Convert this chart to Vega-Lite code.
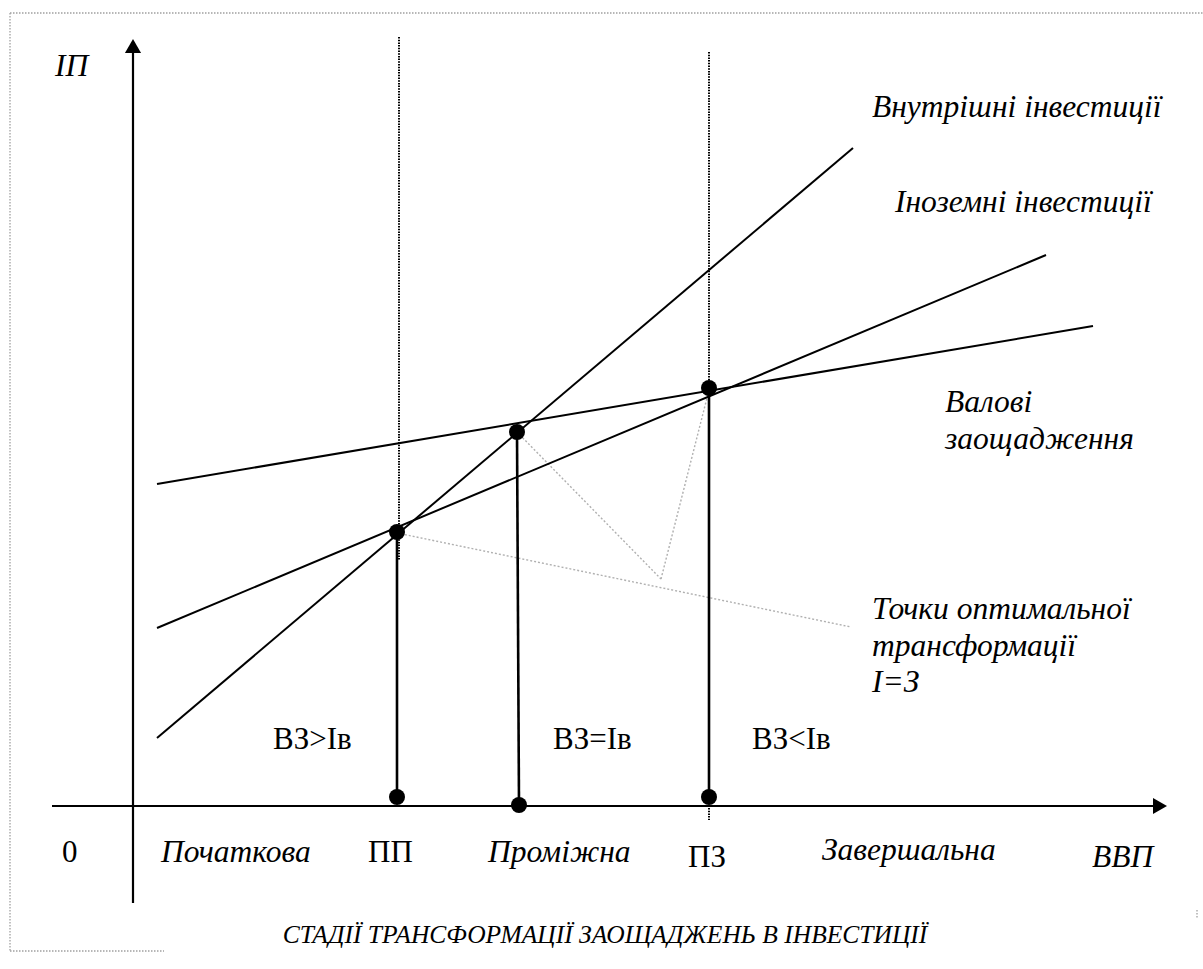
{
  "$schema": "https://vega.github.io/schema/vega-lite/v6.json",
  "width": 1203,
  "height": 969,
  "padding": 0,
  "autosize": "none",
  "background": "white",
  "config": {"view": {"stroke": null}},
  "datasets": {
    "border": [
      {"x": 10, "y": 13, "x2": 1203, "y2": 13},
      {"x": 10, "y": 13, "x2": 10, "y2": 951},
      {"x": 10, "y": 951, "x2": 164, "y2": 951},
      {"x": 1197, "y": 910, "x2": 1197, "y2": 918}
    ],
    "axes": [
      {"x": 133, "y": 50, "x2": 133, "y2": 903},
      {"x": 52, "y": 806, "x2": 1156, "y2": 806}
    ],
    "arrows": [
      {"x": 133, "y": 46, "dir": "triangle-up"},
      {"x": 1160, "y": 806, "dir": "triangle-right"}
    ],
    "curves": [
      {"name": "Валові заощадження", "x": 157, "y": 484, "x2": 1093, "y2": 326},
      {"name": "Іноземні інвестиції", "x": 157, "y": 628, "x2": 1046, "y2": 255},
      {"name": "Внутрішні інвестиції", "x": 157, "y": 738, "x2": 853, "y2": 148}
    ],
    "stems": [
      {"x": 397, "y": 532, "x2": 397, "y2": 797},
      {"x": 517, "y": 432, "x2": 519, "y2": 806},
      {"x": 709, "y": 388, "x2": 709, "y2": 797}
    ],
    "guides": [
      {"x": 399, "y": 37, "x2": 399, "y2": 560},
      {"x": 709, "y": 52, "x2": 709, "y2": 820}
    ],
    "optimal": [
      {"x": 397, "y": 533, "x2": 851, "y2": 627},
      {"x": 517, "y": 432, "x2": 661, "y2": 579},
      {"x": 661, "y": 579, "x2": 709, "y2": 390}
    ],
    "dots": [
      {"x": 397, "y": 532},
      {"x": 517, "y": 432},
      {"x": 709, "y": 388},
      {"x": 397, "y": 797},
      {"x": 519, "y": 805},
      {"x": 709, "y": 797}
    ],
    "italic": [
      {"x": 55, "y": 67, "t": "ІП"},
      {"x": 872, "y": 108, "t": "Внутрішні інвестиції"},
      {"x": 895, "y": 203, "t": "Іноземні інвестиції"},
      {"x": 945, "y": 403, "t": "Валові"},
      {"x": 945, "y": 440, "t": "заощадження"},
      {"x": 872, "y": 610, "t": "Точки оптимальної"},
      {"x": 872, "y": 647, "t": "трансформації"},
      {"x": 872, "y": 683, "t": "І=З"},
      {"x": 161, "y": 853, "t": "Початкова"},
      {"x": 488, "y": 853, "t": "Проміжна"},
      {"x": 822, "y": 851, "t": "Завершальна"},
      {"x": 1092, "y": 858, "t": "ВВП"}
    ],
    "regular": [
      {"x": 62, "y": 853, "t": "0"},
      {"x": 368, "y": 853, "t": "ПП"},
      {"x": 688, "y": 858, "t": "ПЗ"},
      {"x": 273, "y": 740, "t": "ВЗ>Ів"},
      {"x": 553, "y": 740, "t": "ВЗ=Ів"},
      {"x": 752, "y": 740, "t": "ВЗ<Ів"}
    ],
    "title": [
      {"x": 605, "y": 935, "t": "СТАДІЇ ТРАНСФОРМАЦІЇ ЗАОЩАДЖЕНЬ В ІНВЕСТИЦІЇ"}
    ]
  },
  "encoding": {
    "x": {"field": "x", "type": "quantitative", "scale": {"domain": [0, 1203], "nice": false, "zero": false}, "axis": null},
    "y": {"field": "y", "type": "quantitative", "scale": {"domain": [969, 0], "nice": false, "zero": false}, "axis": null}
  },
  "layer": [
    {
      "data": {"name": "border"},
      "mark": {"type": "rule", "stroke": "#a0a0a0", "strokeWidth": 1.3, "strokeDash": [1.5, 1.5]},
      "encoding": {"x2": {"field": "x2"}, "y2": {"field": "y2"}}
    },
    {
      "data": {"name": "optimal"},
      "mark": {"type": "rule", "stroke": "#b0b0b0", "strokeWidth": 1.4, "strokeDash": [2, 2]},
      "encoding": {"x2": {"field": "x2"}, "y2": {"field": "y2"}}
    },
    {
      "data": {"name": "guides"},
      "mark": {"type": "rule", "stroke": "black", "strokeWidth": 2, "strokeDash": [1.5, 1.2]},
      "encoding": {"x2": {"field": "x2"}, "y2": {"field": "y2"}}
    },
    {
      "data": {"name": "axes"},
      "mark": {"type": "rule", "stroke": "black", "strokeWidth": 2.2},
      "encoding": {"x2": {"field": "x2"}, "y2": {"field": "y2"}}
    },
    {
      "data": {"name": "arrows"},
      "mark": {"type": "point", "filled": true, "color": "black", "opacity": 1, "size": 260},
      "encoding": {"shape": {"field": "dir", "type": "nominal", "scale": null, "legend": null}}
    },
    {
      "data": {"name": "curves"},
      "mark": {"type": "rule", "stroke": "black", "strokeWidth": 2},
      "encoding": {"x2": {"field": "x2"}, "y2": {"field": "y2"}}
    },
    {
      "data": {"name": "stems"},
      "mark": {"type": "rule", "stroke": "black", "strokeWidth": 2.6},
      "encoding": {"x2": {"field": "x2"}, "y2": {"field": "y2"}}
    },
    {
      "data": {"name": "dots"},
      "mark": {"type": "point", "shape": "circle", "filled": true, "color": "black", "opacity": 1, "size": 256}
    },
    {
      "data": {"name": "italic"},
      "mark": {"type": "text", "font": "Liberation Serif", "fontStyle": "italic", "fontSize": 31.5, "align": "left", "baseline": "middle", "color": "black"},
      "encoding": {"text": {"field": "t"}}
    },
    {
      "data": {"name": "regular"},
      "mark": {"type": "text", "font": "Liberation Serif", "fontSize": 31, "align": "left", "baseline": "middle", "color": "black"},
      "encoding": {"text": {"field": "t"}}
    },
    {
      "data": {"name": "title"},
      "mark": {"type": "text", "font": "Liberation Serif", "fontStyle": "italic", "fontSize": 25.5, "align": "center", "baseline": "middle", "color": "black"},
      "encoding": {"text": {"field": "t"}}
    }
  ]
}
